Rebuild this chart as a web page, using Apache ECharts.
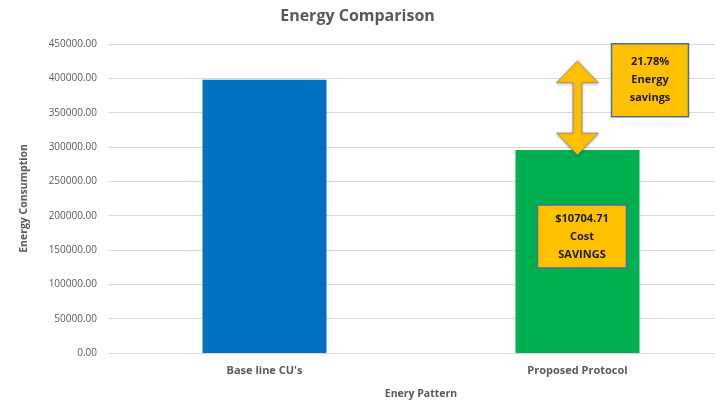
<!DOCTYPE html>
<html>
<head>
<meta charset="utf-8">
<script src="https://cdn.jsdelivr.net/npm/echarts@6/dist/echarts.min.js"></script>
<style>
  html, body { margin: 0; padding: 0; background: #fff; }
  #chart { width: 715px; height: 403px; }
</style>
</head>
<body>
<div id="chart"></div>
<script>
// Energy use per pattern
const categories = ["Base line CU's", "Proposed Protocol"];
const energyValues = [398000, 295600];
const barColors = ['#0070C0', '#00B050'];
const yTicks = { min: 0, max: 450000, step: 50000 };
const savingsText = '21.78%\nEnergy\nsavings';
const costText = '$10704.71\nCost\nSAVINGS';

const FONT = '"Open Sans", Lato, sans-serif';
const chart = echarts.init(document.getElementById('chart'));

chart.setOption({
  animation: false,
  title: {
    text: 'Energy Comparison',
    left: 'center',
    top: 3,
    textStyle: { fontFamily: FONT, fontSize: 16, fontWeight: 'bold', color: '#595959' }
  },
  grid: { left: 108, width: 626, top: 44, height: 309, outerBoundsMode: 'none', containLabel: false },
  xAxis: {
    type: 'category',
    data: categories,
    name: 'Enery Pattern',
    nameLocation: 'middle',
    nameGap: 36,
    nameTextStyle: { fontFamily: FONT, fontSize: 10.5, fontWeight: 'bold', color: '#595959' },
    axisLine: { lineStyle: { color: '#d9d9d9', width: 1 } },
    axisTick: { show: false },
    axisLabel: { fontFamily: FONT, fontSize: 11, fontWeight: 'bold', color: '#595959', margin: 12 }
  },
  yAxis: {
    type: 'value',
    min: yTicks.min,
    max: yTicks.max,
    interval: yTicks.step,
    name: 'Energy Consumption',
    nameLocation: 'middle',
    nameGap: 78,
    nameTextStyle: { fontFamily: FONT, fontSize: 10.5, fontWeight: 'bold', color: '#595959' },
    axisLine: { show: false },
    axisTick: { show: false },
    splitLine: { lineStyle: { color: '#d9d9d9', width: 1 } },
    axisLabel: {
      fontFamily: FONT, fontSize: 10, color: '#595959', margin: 11,
      formatter: v => v.toFixed(2)
    }
  },
  series: [{
    type: 'bar',
    barWidth: 124,
    data: energyValues.map((v, i) => ({ value: v, itemStyle: { color: barColors[i] } }))
  }]
});

// Annotation overlay, anchored to the proposed bar through the axis scales
function drawAnnotations() {
  const [cx, greenTop] = chart.convertToPixel({ seriesIndex: 0 }, [1, energyValues[1]]);
  const [, blueTop] = chart.convertToPixel({ seriesIndex: 0 }, [0, energyValues[0]]);
  const tipTop = blueTop - 19;
  const tipBot = greenTop + 5;
  const headH = 22, headW = 21, shaft = 4.5;
  const arrowPts = [
    [cx, tipTop],
    [cx + headW, tipTop + headH],
    [cx + shaft, tipTop + headH],
    [cx + shaft, tipBot - headH],
    [cx + headW, tipBot - headH],
    [cx, tipBot],
    [cx - headW, tipBot - headH],
    [cx - shaft, tipBot - headH],
    [cx - shaft, tipTop + headH],
    [cx - headW, tipTop + headH]
  ];
  const boxStyle = { fill: '#FFC000', stroke: '#41719C', lineWidth: 1.5 };
  const textStyle = {
    fontFamily: FONT, fontSize: 11, fontWeight: 'bold', fill: '#1a1a1a',
    align: 'center', verticalAlign: 'middle', lineHeight: 18
  };
  chart.setOption({
    graphic: [
      {
        type: 'polygon',
        shape: { points: arrowPts },
        style: {
          fill: '#FFC000', stroke: 'rgba(120,110,150,0.6)', lineWidth: 1,
          shadowBlur: 3, shadowColor: 'rgba(60,50,90,0.35)', shadowOffsetY: 1
        },
        z: 10
      },
      {
        type: 'rect', z: 10,
        shape: { x: cx + 34, y: blueTop - 36, width: 77, height: 73 },
        style: boxStyle
      },
      {
        type: 'text', z: 11,
        x: cx + 34 + 38.5, y: blueTop - 36 + 36.5,
        style: Object.assign({ text: savingsText }, textStyle)
      },
      {
        type: 'rect', z: 10,
        shape: { x: cx - 40, y: greenTop + 55, width: 89, height: 63 },
        style: boxStyle
      },
      {
        type: 'text', z: 11,
        x: cx - 40 + 44.5, y: greenTop + 55 + 31.5,
        style: Object.assign({ text: costText }, textStyle)
      }
    ]
  });
}
drawAnnotations();
</script>
</body>
</html>
